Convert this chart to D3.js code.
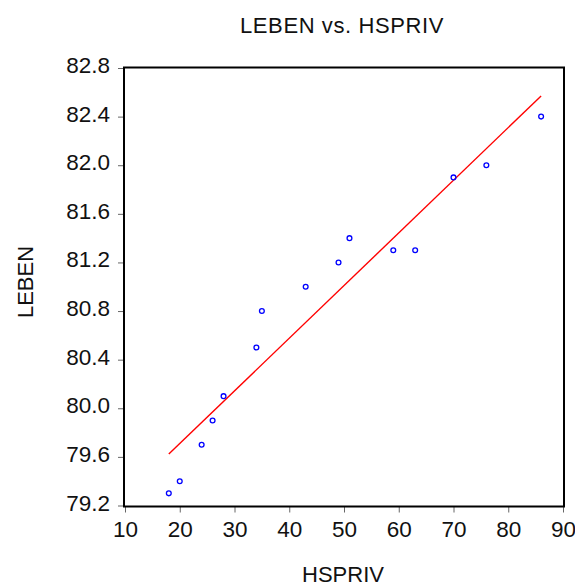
<!DOCTYPE html>
<html lang="en">
<head>
  <meta charset="UTF-8">
  <title>LEBEN vs. HSPRIV</title>
  <style>
    body { margin: 0; background: #fff; }
    svg { display: block; font-family: "Liberation Sans", Arial, sans-serif; }
  </style>
</head>
<body>
  <svg id="svg" width="575" height="586"></svg>
  <script src="https://d3js.org/d3.v7.min.js"></script>
  <script>
    // values
    var hspriv = [18, 20, 24, 26, 28, 34, 35, 43, 49, 51, 59, 63, 70, 76, 86];
    var leben = [79.3, 79.4, 79.7, 79.9, 80.1, 80.5, 80.8, 81.0, 81.2, 81.4, 81.3, 81.3, 81.9, 82.0, 82.4];
    var xTicks = [10, 20, 30, 40, 50, 60, 70, 80, 90];
    var yTicks = [79.2, 79.6, 80.0, 80.4, 80.8, 81.2, 81.6, 82.0, 82.4, 82.8];

    var svg = d3.select("svg"),
      plotL = 125, plotR = 563, plotT = 68, plotB = 505.5;

    var x = d3.scaleLinear().domain([10, 90]).range([plotL, plotR]);
    var y = d3.scaleLinear().domain([79.2, 82.8]).range([plotB, plotT]);

    var data = hspriv.map(function (d, i) { return { x: d, y: leben[i] }; });

    // least squares fit
    var mx = d3.mean(hspriv), my = d3.mean(leben);
    var sxy = d3.sum(data, function (d) { return (d.x - mx) * (d.y - my); });
    var sxx = d3.sum(data, function (d) { return (d.x - mx) * (d.x - mx); });
    var b = sxy / sxx, a = my - b * mx;
    var x0 = d3.min(hspriv), x1 = d3.max(hspriv);

    // axes
    var xAxis = svg.append("g")
      .attr("transform", "translate(0," + (plotB + 1) + ")")
      .call(d3.axisBottom(x).tickValues(xTicks).tickSize(6).tickPadding(9).tickFormat(d3.format("d")));
    var yAxis = svg.append("g")
      .attr("transform", "translate(" + (plotL - 1) + ",0)")
      .call(d3.axisLeft(y).tickValues(yTicks).tickSize(6).tickPadding(8).tickFormat(d3.format(".1f")));

    [xAxis, yAxis].forEach(function (ax) {
      ax.select(".domain").remove();
      ax.selectAll(".tick line").attr("stroke", "#666").attr("stroke-width", 1);
      ax.selectAll(".tick text").attr("font-size", 22.5).attr("fill", "#111")
        .attr("font-family", "Liberation Sans, Arial, sans-serif");
    });
    yAxis.selectAll(".tick text").attr("dy", "0.2em");
    xAxis.selectAll(".tick text").attr("dy", "0.71em");

    // frame
    svg.append("rect")
      .attr("x", plotL - 1)
      .attr("y", plotT - 0.5)
      .attr("width", plotR - plotL + 2)
      .attr("height", plotB - plotT + 1.5)
      .attr("fill", "none")
      .attr("stroke", "#000")
      .attr("stroke-width", 2);

    // fitted line
    svg.append("line")
      .attr("x1", x(x0)).attr("y1", y(a + b * x0))
      .attr("x2", x(x1)).attr("y2", y(a + b * x1))
      .attr("stroke", "#ff0000")
      .attr("stroke-width", 1.4);

    // points
    svg.append("g")
      .selectAll("circle")
      .data(data)
      .enter().append("circle")
      .attr("cx", function (d) { return x(d.x); })
      .attr("cy", function (d) { return y(d.y); })
      .attr("r", 2.4)
      .attr("fill", "none")
      .attr("stroke", "#0000ff")
      .attr("stroke-width", 1.3);

    // labels
    svg.append("text")
      .attr("x", 342).attr("y", 33)
      .attr("text-anchor", "middle")
      .attr("font-size", 22)
      .attr("letter-spacing", 0.6)
      .attr("fill", "#111")
      .text("LEBEN vs. HSPRIV");

    svg.append("text")
      .attr("transform", "translate(33,282)rotate(-90)")
      .attr("text-anchor", "middle")
      .attr("font-size", 22)
      .attr("fill", "#111")
      .text("LEBEN");

    svg.append("text")
      .attr("x", 343).attr("y", 582)
      .attr("text-anchor", "middle")
      .attr("font-size", 22)
      .attr("fill", "#111")
      .text("HSPRIV");
  </script>
</body>
</html>
